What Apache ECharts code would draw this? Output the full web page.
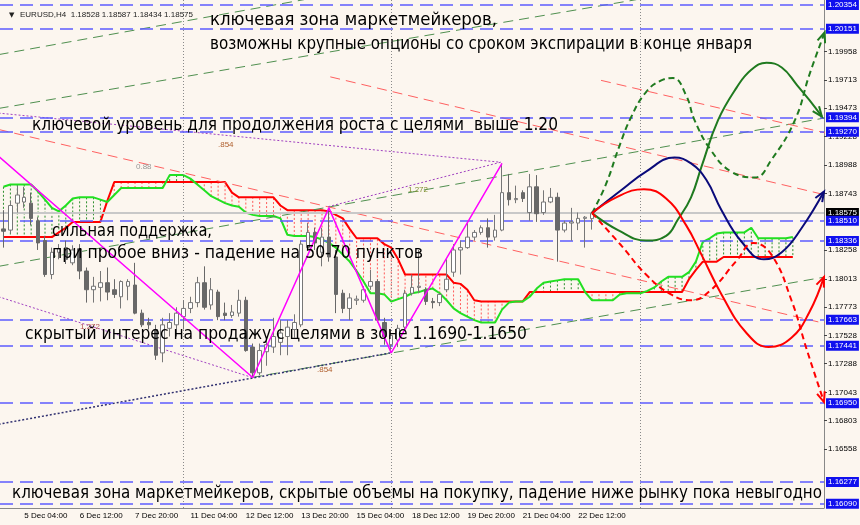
<!DOCTYPE html>
<html><head><meta charset="utf-8">
<script src="https://cdn.jsdelivr.net/npm/echarts@6/dist/echarts.min.js"></script>
<style>html,body{margin:0;padding:0;background:#fcf6ef;}#c{width:860px;height:525px;}</style>
</head><body><div id="c"></div>
<script>
// ---------- DATA ----------
const FIRST_BAR = -26, LAST_BAR = 92;
const xTickLabels = ['5 Dec 04:00','6 Dec 12:00','7 Dec 20:00','11 Dec 04:00','12 Dec 12:00','13 Dec 20:00','15 Dec 04:00','18 Dec 12:00','19 Dec 20:00','21 Dec 04:00','22 Dec 12:00'];
const yTickLabels = [1.19958,1.19713,1.19473,1.19228,1.18988,1.18743,1.18258,1.18013,1.17773,1.17528,1.17288,1.17043,1.16803,1.16558];
const levelLines = [1.20354,1.20151,1.19394,1.19270,1.18510,1.18336,1.17663,1.17441,1.16950,1.16277,1.16090];
const currentPrice = 1.18575;
const separators = [0,30,66];
// candles: [open, close, low, high], bars -26 .. 59
const candleOHLC = [
[1.1844,1.1842,1.1828,1.1860],[1.1843,1.1864,1.1840,1.1868],[1.1866,1.1873,1.1858,1.1881],[1.1867,1.1871,1.1862,1.1880],
[1.1866,1.1853,1.1847,1.1875],[1.1851,1.1832,1.1826,1.1854],[1.1834,1.1805,1.1803,1.1838],[1.1805,1.1824,1.1801,1.1828],
[1.1824,1.1827,1.1818,1.1831],[1.1828,1.1818,1.1814,1.1834],[1.1815,1.1826,1.1813,1.1830],[1.1827,1.1808,1.1801,1.1831],
[1.1808,1.1792,1.1781,1.1811],[1.1792,1.1795,1.1781,1.1803],[1.1794,1.1798,1.1782,1.1808],[1.1798,1.1790,1.1783,1.1811],
[1.1792,1.1788,1.1785,1.1801],[1.1786,1.1799,1.1776,1.1800],[1.1795,1.1799,1.1783,1.1801],[1.1796,1.1772,1.1771,1.1815],
[1.1772,1.1762,1.1760,1.1775],[1.1764,1.1762,1.1758,1.1768],[1.1758,1.1736,1.1732,1.1762],[1.1738,1.1762,1.1730,1.1768],
[1.1759,1.1764,1.1752,1.1772],[1.1762,1.1772,1.1752,1.1777],
[1.1769,1.1776,1.1758,1.1783],[1.1776,1.1781,1.1772,1.1786],[1.1781,1.1798,1.1777,1.1803],[1.1798,1.1777,1.1775,1.1812],
[1.1779,1.1792,1.1775,1.1802],[1.1790,1.1769,1.1766,1.1792],[1.1772,1.1770,1.1766,1.1781],[1.1770,1.1773,1.1768,1.1779],
[1.1772,1.1783,1.1769,1.1792],[1.1783,1.1740,1.1739,1.1786],[1.1743,1.1721,1.1717,1.1746],[1.1721,1.1740,1.1719,1.1746],
[1.1739,1.1745,1.1727,1.1749],[1.1743,1.1752,1.1738,1.1768],[1.1747,1.1755,1.1736,1.1766],[1.1752,1.1760,1.1736,1.1766],
[1.1758,1.1764,1.1751,1.1771],[1.1762,1.1831,1.1760,1.1834],[1.1828,1.1841,1.1826,1.1849],[1.1841,1.1832,1.1826,1.1845],
[1.1824,1.1837,1.1812,1.1845],[1.1837,1.1820,1.1816,1.1862],[1.1820,1.1788,1.1772,1.1826],[1.1789,1.1776,1.1772,1.1792],
[1.1776,1.1785,1.1766,1.1789],[1.1783,1.1784,1.1779,1.1787],[1.1783,1.1792,1.1781,1.1795],[1.1795,1.1799,1.1792,1.1809],
[1.1799,1.1766,1.1764,1.1801],[1.1764,1.1752,1.1745,1.1768],[1.1745,1.1753,1.1738,1.1758],[1.1749,1.1759,1.1743,1.1762],
[1.1760,1.1789,1.1758,1.1792],[1.1789,1.1794,1.1787,1.1805],[1.1794,1.1795,1.1789,1.1826],[1.1792,1.1782,1.1779,1.1794],
[1.1782,1.1781,1.1776,1.1785],[1.1781,1.1788,1.1778,1.1789],[1.1792,1.1801,1.1790,1.1818],[1.1807,1.1826,1.1803,1.1831],
[1.1826,1.1828,1.1805,1.1834],[1.1828,1.1837,1.1827,1.1849],[1.1837,1.1841,1.1834,1.1843],[1.1841,1.1845,1.1839,1.1847],
[1.1845,1.1837,1.1828,1.1853],[1.1837,1.1843,1.1834,1.1856],[1.1843,1.1875,1.1842,1.1900],[1.1875,1.1869,1.1864,1.1891],
[1.1869,1.1870,1.1866,1.1881],[1.1875,1.1870,1.1867,1.1877],[1.1858,1.1880,1.1851,1.1891],[1.1880,1.1857,1.1850,1.1890],
[1.1858,1.1867,1.1856,1.1877],[1.1867,1.1871,1.1866,1.1879],[1.1871,1.1843,1.1816,1.1875],[1.1843,1.1849,1.1841,1.1851],
[1.1849,1.1850,1.1834,1.1862],[1.1849,1.1853,1.1843,1.1858],[1.1853,1.1854,1.1828,1.1855],[1.18528,1.18575,1.18434,1.18587]
];
// Ichimoku Senkou span A (green) and B (red), bars -26 .. 88
const spanA = [
1.1880,1.1882,1.1882,1.1882,1.1882,1.1876,1.1869,1.1862,1.1859,1.1864,
1.1870,1.1871,1.1871,1.1871,1.1869,1.1867,1.1873,1.1879,1.1879,1.1879,
1.1879,1.1879,1.1879,1.1879,1.1890,1.1890,1.1890,1.1887,1.1882,1.1877,
1.1872,1.1869,1.1866,1.1864,1.1863,1.1858,1.1856,1.1855,1.1855,1.1855,
1.1853,1.1839,1.1838,1.1838,1.1838,1.1837,1.1835,1.1832,1.1828,1.1822,
1.1816,1.1808,1.1799,1.1789,1.1789,1.1788,1.1782,1.1784,1.1786,1.1789,
1.1790,1.1792,1.1793,1.1789,1.1783,1.1776,1.1772,1.1769,1.1766,1.1764,
1.1764,1.1764,1.1775,1.1781,1.1782,1.1782,1.1786,1.1793,1.1798,1.1799,
1.1800,1.1801,1.1801,1.1801,1.1790,1.1783,1.1783,1.1783,1.1783,1.1788,
1.1789,1.1789,1.1789,1.1791,1.1794,1.1799,1.1803,1.1803,1.1803,1.1807,
1.1816,1.1833,1.1836,1.1840,1.1841,1.1841,1.1841,1.1841,1.1845,1.1836,
1.1836,1.1836,1.1836,1.1836,1.1837];
const spanB = [
1.1837,1.1837,1.1837,1.1837,1.1837,1.1837,1.1837,1.1837,1.1841,1.1845,
1.1850,1.1850,1.1850,1.1850,1.1850,1.1868,1.1884,1.1884,1.1884,1.1884,
1.1884,1.1884,1.1884,1.1884,1.1884,1.1884,1.1884,1.1884,1.1884,1.1884,
1.1884,1.1884,1.1884,1.1875,1.1871,1.1871,1.1871,1.1871,1.1871,1.1871,
1.1864,1.1860,1.1860,1.1860,1.1860,1.1860,1.1860,1.1859,1.1856,1.1853,
1.1844,1.1836,1.1836,1.1836,1.1836,1.1831,1.1828,1.1818,1.1805,1.1805,
1.1805,1.1805,1.1805,1.1805,1.1805,1.1798,1.1797,1.1792,1.1783,1.1782,
1.1782,1.1782,1.1782,1.1782,1.1782,1.1782,1.1790,1.1790,1.1790,1.1790,
1.1790,1.1790,1.1790,1.1790,1.1790,1.1790,1.1790,1.1790,1.1790,1.1790,
1.1790,1.1790,1.1790,1.1790,1.1790,1.1790,1.1790,1.1790,1.1790,1.1801,
1.1809,1.1816,1.1816,1.1816,1.1820,1.1820,1.1820,1.1820,1.1820,1.1820,
1.1820,1.1820,1.1820,1.1820,1.1820];
// drawn objects: [bar, price]
const zigzag = [[-26.7,1.1906],[10,1.1717],[21,1.1862],[30,1.1738],[46,1.1900]];
const greenTrendA = [[-26.7,1.1993],[17.4,1.2040]];
const greenTrendB = [[-26.7,1.1947],[65.4,1.2040]];
const greenTrendC = [[-26.7,1.1812],[92.75,1.1939]];
const greenTrendE = [[9.9,1.1717],[92.75,1.1803]];
const navyDotted  = [[-26.7,1.1677],[29.9,1.1738]];
const redTrend1 = [[-26.7,1.1929],[92.75,1.1763]];
const redTrend2 = [[21.2,1.1974],[92.75,1.1873]];
const redTrend3 = [[60.3,1.1971],[92.75,1.1926]];
const purpleDot1 = [[-26.7,1.1943],[45.8,1.1901]];
const purpleDot2 = [[-26.7,1.1786],[9.9,1.1717]];
const purpleDot3 = [[20.9,1.1863],[45.8,1.1901]];
const fcGreenSolid = [[59,1.18575],[62.75,1.1843],[66.8,1.1834],[69.7,1.1838],[71.4,1.1852],[73.3,1.1871],[74.8,1.1897],[77.2,1.1937],[79.9,1.1965],[82.0,1.1980],[84.2,1.1986],[86.4,1.1982],[88.6,1.1967],[90.4,1.1954],[92.2,1.1940]];
const fcGreenDash = [[59,1.18575],[61.0,1.1882],[62.9,1.1914],[64.6,1.1939],[66.8,1.1961],[69.0,1.1971],[70.7,1.1973],[72.6,1.1958],[73.8,1.1937],[76.2,1.1911],[79.1,1.1893],[82.5,1.1888],[84.9,1.1903],[88.3,1.1937],[90.4,1.1976],[92.6,1.2012]];
const fcNavy = [[59,1.18575],[63.2,1.1877],[66.8,1.1893],[70.9,1.1905],[73.3,1.1900],[75.5,1.1886],[77.7,1.1860],[80.6,1.1833],[83.8,1.1818],[86.4,1.1824],[89.3,1.1845],[92.5,1.1876]];
const fcRedSolid = [[59,1.18575],[62.5,1.1871],[66.5,1.1878],[69.7,1.1870],[72.6,1.1847],[74.8,1.1822],[77.7,1.1788],[81.3,1.1755],[84.5,1.1743],[87.8,1.1751],[90.4,1.1773],[92.5,1.1803]];
const fcRedDash = [[59,1.18575],[63.2,1.1830],[66.8,1.1805],[70.4,1.1788],[73.3,1.1783],[76.2,1.1792],[79.9,1.1817],[82.3,1.1832],[84.9,1.1822],[87.8,1.1783],[90.0,1.1741],[92.5,1.1696]];
const headerText = 'EURUSD,H4  1.18528 1.18587 1.18434 1.18575';
const notes = [
 ['ключевая зона маркетмейкеров,',210,497,21],
 ['возможны крупные опционы со сроком экспирации в конце января',210,752,45],
 ['ключевой уровень для продолжения роста с целями  выше 1.20',32,558,126],
 ['сильная поддержка,',52,212,232],
 ['при пробое вниз - падение на 50-70 пунктов',52,423,254],
 ['скрытый интерес на продажу с целями в зоне 1.1690-1.1650',25,527,335],
 ['ключевая зона маркетмейкеров, скрытые объемы на покупку, падение ниже рынку пока невыгодно',12,822,494]
];
const fibLabels = [['0.88',136,167,'#999999'],['.854',218,145,'#b0602f'],['1.272',408,190,'#7f8f2f'],['1.272',80,327,'#b05050'],['.854',317,370,'#b0602f']];

// ---------- BUILD ----------
const categories = [];
for (let i = FIRST_BAR; i <= LAST_BAR; i++) {
  const w = Math.floor(i / 30), within = i - w * 30, day = Math.floor(within / 6), hr = (within % 6) * 4;
  categories.push((11 + w * 7 + day) + ' Dec ' + String(hr).padStart(2, '0') + ':00');
}
const isTick = (idx, val) => xTickLabels.indexOf(categories[idx]) >= 0;
const hatchData = spanA.map((a, k) => [k, a, spanB[k]]);
const FONT_AX = 'Liberation Sans';

function trend(data, color, type, width, z) {
  return {type:'line', xAxisIndex:1, data, symbol:'none', silent:true, z: z||4, animation:false,
    lineStyle:{color, type, width: width||1}};
}
function curve(data, color, type) {
  return {type:'line', xAxisIndex:1, data, symbol:'none', smooth:0.45, silent:true, z:7,
    lineStyle:{color, type, width:2}};
}
const curves = [[fcGreenSolid,'#1f7a1f','solid'],[fcGreenDash,'#1f7a1f',[6,4]],[fcNavy,'#0a0a7a','solid'],[fcRedSolid,'#ff0000','solid'],[fcRedDash,'#ff0000',[6,4]]];
const arrowData = curves.map((c, k) => { const d = c[0], n = d.length; return [d[n-1][0], d[n-1][1], d[n-2][0], d[n-2][1], k]; });

const mctx = document.createElement('canvas').getContext('2d');
function noteEl(n) {
  const font = '17px "DejaVu Sans"';
  mctx.font = font;
  const w = mctx.measureText(n[0]).width;
  return {type:'text', x:n[1], y:n[3], scaleX:(n[2]-n[1])/w, z:100, silent:true,
    style:{text:n[0], font, fill:'#000', align:'left', verticalAlign:'middle'}};
}
const graphics = notes.map(noteEl);
graphics.push({type:'text', x:9, y:15, z:100, silent:true, style:{text:'▼', font:'7px "DejaVu Sans"', fill:'#222', verticalAlign:'middle'}});
graphics.push({type:'text', x:20, y:15, z:100, silent:true, style:{text:headerText, font:'8px "Liberation Sans"', fill:'#222', verticalAlign:'middle'}});
fibLabels.forEach(f => graphics.push({type:'text', x:f[1], y:f[2], z:90, silent:true, style:{text:f[0], font:'8px "Liberation Sans"', fill:f[3], verticalAlign:'middle'}}));

const option = {
  backgroundColor:'#fcf6ef',
  animation:false,
  grid:{left:0, right:36, top:0, bottom:17, containLabel:false},
  xAxis:[{
    type:'category', data:categories, boundaryGap:true,
    axisLine:{onZero:false, lineStyle:{color:'#888', width:1}},
    axisTick:{interval:isTick, alignWithLabel:true, length:4, lineStyle:{color:'#444'}},
    axisLabel:{interval:isTick, align:'left', fontSize:8, fontFamily:FONT_AX, color:'#000', margin:4},
    splitLine:{show:false}
  },{
    type:'value', min:FIRST_BAR-0.5, max:LAST_BAR+0.5, show:false, axisLine:{onZero:false}
  }],
  yAxis:{
    type:'value', position:'right', min:1.16054, max:1.20397, scale:true,
    axisLine:{show:true, onZero:false, lineStyle:{color:'#888'}},
    axisTick:{show:true, customValues:yTickLabels, length:3, lineStyle:{color:'#444'}},
    axisLabel:{customValues:yTickLabels, fontSize:8, fontFamily:FONT_AX, color:'#000', margin:4, formatter:v => v.toFixed(5)},
    splitLine:{show:false}
  },
  graphic: graphics,
  series:[
    {type:'line', xAxisIndex:1, data:[], silent:true, z:1,
      markLine:{silent:true, symbol:'none', animation:false, precision:5,
        lineStyle:{color:'#8a8a8a', type:[1,2], width:1},
        label:{show:false},
        data: separators.map(s => ({xAxis:s}))}},
    {type:'line', xAxisIndex:1, data:[], silent:true, z:1,
      markLine:{silent:true, symbol:'none', animation:false, precision:5,
        lineStyle:{color:'#c8c8c8', type:'solid', width:2},
        label:{show:true, position:'end', distance:2, formatter:p => p.value.toFixed(5), color:'#fff', backgroundColor:'#000', fontSize:8, fontFamily:FONT_AX, padding:[1,2,1,2]},
        data:[{yAxis:currentPrice}]}},
    {type:'line', xAxisIndex:1, data:[], silent:true, z:3,
      markLine:{silent:true, symbol:'none', animation:false, precision:5,
        lineStyle:{color:'#5c5cff', type:[13,7], width:1.5},
        label:{show:true, position:'end', distance:2, formatter:p => p.value.toFixed(5), color:'#fff', backgroundColor:'#1010ee', fontSize:8, fontFamily:FONT_AX, padding:[1,2,1,2]},
        data: levelLines.map(v => ({yAxis:v}))}},
    {type:'custom', xAxisIndex:0, z:2, silent:true, data:hatchData,
      renderItem:(params, api) => {
        const a = api.value(1), b = api.value(2);
        const p1 = api.coord([api.value(0), a]), p2 = api.coord([api.value(0), b]);
        return {type:'line', shape:{x1:p1[0], y1:p1[1], x2:p2[0], y2:p2[1]},
          style:{stroke: b > a ? '#ff5a5a' : '#2f8f2f', lineWidth:1, lineDash:[2,2]}};
      }},
    {type:'line', data:spanB, symbol:'none', silent:true, z:3, lineStyle:{color:'#ff0000', width:2}},
    {type:'line', data:spanA, symbol:'none', silent:true, z:3, lineStyle:{color:'#22e022', width:2}},
    {type:'candlestick', data:candleOHLC, barWidth:4, silent:true, z:5,
      itemStyle:{color:'#ffffff', color0:'#686868', borderColor:'#777777', borderColor0:'#686868', borderWidth:1}},
    trend(greenTrendA,'#4f8f4f',[10,6],1),
    trend(greenTrendB,'#4f8f4f',[10,6],1),
    trend(greenTrendC,'#4f8f4f',[10,6],1),
    trend(greenTrendE,'#4f8f4f',[10,6],1),
    trend(navyDotted,'#303070',[2,2],1.5),
    trend(redTrend1,'#ff6060',[10,6],1),
    trend(redTrend2,'#ff6060',[10,6],1),
    trend(redTrend3,'#ff6060',[10,6],1),
    trend(purpleDot1,'#a040c0',[2,2],1),
    trend(purpleDot2,'#a040c0',[2,2],1),
    trend(purpleDot3,'#a040c0',[2,2],1),
    trend(zigzag,'#ff00ff','solid',1.5,6),
    ...curves.map(c => curve(c[0], c[1], c[2])),
    {type:'custom', xAxisIndex:1, z:8, silent:true, data:arrowData,
      renderItem:(params, api) => {
        const cols = curves.map(c => c[1]);
        const e = api.coord([api.value(0), api.value(1)]);
        const p = api.coord([api.value(2), api.value(3)]);
        const dx = e[0]-p[0], dy = e[1]-p[1], len = Math.hypot(dx, dy) || 1;
        const ux = dx/len, uy = dy/len, L = 10, W = 4;
        const a = [e[0]-ux*L-uy*W, e[1]-uy*L+ux*W], b = [e[0]-ux*L+uy*W, e[1]-uy*L-ux*W];
        return {type:'polyline', shape:{points:[a, e, b]}, style:{stroke:cols[api.value(4)], lineWidth:2, fill:null}};
      }}
  ]
};
const chart = echarts.init(document.getElementById('c'));
chart.setOption(option);
</script>
</body></html>
